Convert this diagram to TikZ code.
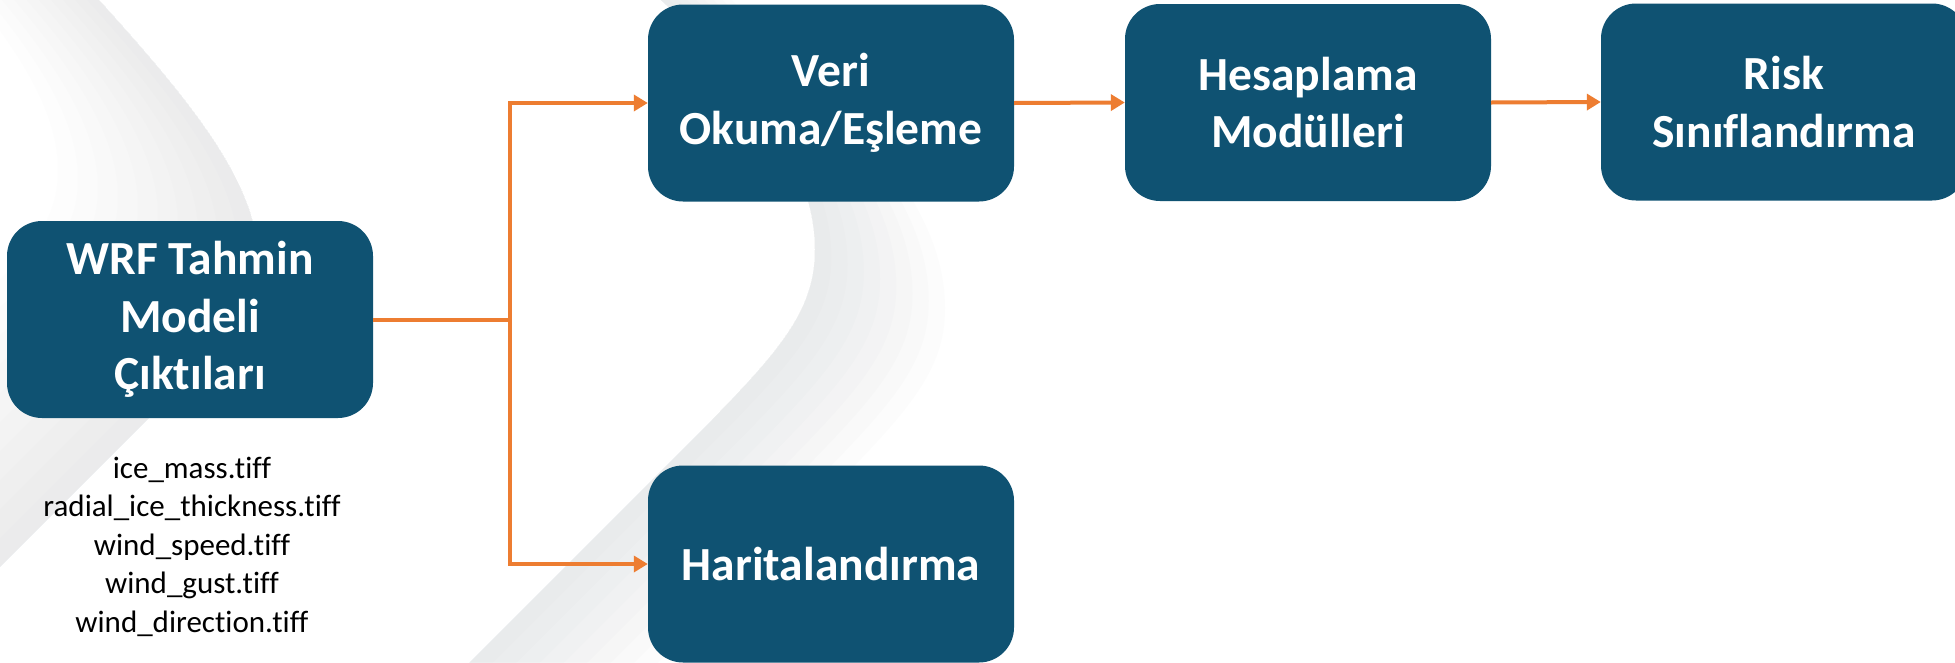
\documentclass[tikz,border=0pt]{standalone}
\usepackage{fontspec}
\setmainfont{Carlito}[Ligatures={NoCommon}]
\usetikzlibrary{arrows.meta}
\definecolor{boxblue}{HTML}{0F5272}
\definecolor{lineorange}{HTML}{ED7D31}
\definecolor{swoosh}{RGB}{200,204,207}
% swoosh edges (x,y in px, y downwards); #1 = offset
\newcommand\curveA[1]{({40-#1},{-60-0.45*#1}) -- ({90-#1},{-10-0.45*#1}) .. controls ({185-#1},{95-0.45*#1}) and ({258-#1},{180-0.45*#1}) .. ({258-#1},{260-0.45*#1}) .. controls ({258-#1},{320-0.45*#1}) and ({220-#1},{350-0.45*#1}) .. ({147-#1},{420-0.45*#1}) -- ({-150-#1},{717-0.45*#1})}
\newcommand\curveB[1]{({600+#1},{-60+0.45*#1}) -- ({650+#1},{-10+0.45*#1}) .. controls ({760+#1},{90+0.45*#1}) and ({815+#1},{170+0.45*#1}) .. ({815+#1},{250+0.45*#1}) .. controls ({815+#1},{310+0.45*#1}) and ({780+#1},{350+0.45*#1}) .. ({712+#1},{420+0.45*#1}) -- ({400+#1},{732+0.45*#1})}
\tikzset{
  box/.style={fill=boxblue, rounded corners=35pt, minimum width=366pt, minimum height=197pt,
    inner sep=0pt, text=white, align=center, font=\bfseries\fontsize{47.5}{57.5}\selectfont},
  filetext/.style={anchor=base, inner sep=0pt, text=black, font=\fontsize{31}{38.5}\selectfont},
  conn/.style={draw=lineorange, line width=4pt},
  arrowconn/.style={conn, -{Triangle[length=14pt,width=16pt]}}
}
\begin{document}
\begin{tikzpicture}[x=1pt,y=-1pt]
\useasboundingbox (0,0) rectangle (1955,662);
\fill[white] (0,0) rectangle (1955,662);
% background swooshes
\begin{scope}
  \clip (0,0) rectangle (1955,662);
  \foreach \i in {1,...,10}{
    \fill[swoosh, opacity=0.03, even odd rule]
      \curveA{0} -- (-500,900) -- (-500,-500) -- cycle
      \curveA{\i*20} -- (-500,900) -- (-500,-500) -- cycle;
  }
  \foreach \i in {1,...,8}{
    \fill[swoosh, opacity=0.05, even odd rule]
      \curveB{0} -- (2300,900) -- (2300,-500) -- cycle
      \curveB{\i*16.25} -- (2300,900) -- (2300,-500) -- cycle;
  }
\end{scope}
% boxes
\node[box] (wrf) at (190,319.5) {WRF Tahmin\\Modeli\\Çıktıları};
\node[box] (veri) at (831,103) {Veri\\Okuma/Eşleme};
\node[box] (hes) at (1308,102.5) {Hesaplama\\Modülleri};
\node[box] (risk) at (1784,102) {Risk\\Sınıflandırma};
\node[box] (harit) at (831,564) {Haritalandırma};
% file list
\node[filetext] (f1) at (192,478) {ice\_mass.tiff};
\node[filetext] (f2) at (192,516.5) {radial\_ice\_thickness.tiff};
\node[filetext] (f3) at (192,555) {wind\_speed.tiff};
\node[filetext] (f4) at (192,593.5) {wind\_gust.tiff};
\node[filetext] (f5) at (192,632) {wind\_direction.tiff};
% connectors
\coordinate (j) at (510,319.5);
\draw[conn] (wrf.east) -- (j);
\draw[arrowconn] (j) |- (veri.west);
\draw[arrowconn] (j) |- (harit.west);
\draw[arrowconn] (veri.east) -- (hes.west);
\draw[arrowconn] (hes.east) -- (risk.west);
\end{tikzpicture}
\end{document}
